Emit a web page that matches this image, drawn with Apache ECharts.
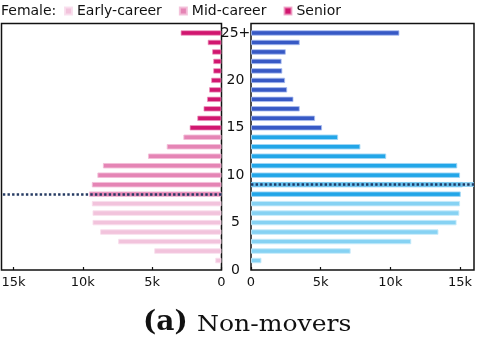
<!DOCTYPE html>
<html>
<head>
<meta charset="utf-8">
<script src="https://cdn.jsdelivr.net/npm/echarts@6/dist/echarts.min.js"></script>
<style>
  html, body { margin: 0; padding: 0; background: #fff; }
  #chart { width: 479px; height: 341px; }
</style>
</head>
<body>
<div id="chart"></div>
<script>
// Career age (years since first publication) shown on the shared vertical axis.
const yearLabels = ['0','1','2','3','4','5','6','7','8','9','10','11','12','13','14','15','16','17','18','19','20','21','22','23','24','25+'];
// Researcher counts per career age 1..25+ (age 0 has no bar).
const femaleCounts = [450, 4850, 7450, 8750, 9300, 9300, 9350, 9550, 9350, 8950, 8550, 5300, 3950, 2750, 2300, 1750, 1300, 1050, 900, 750, 600, 600, 680, 1000, 2950];
const maleCounts   = [750, 7150, 11500, 13450, 14750, 14950, 15000, 15050, 15200, 15000, 14800, 9700, 7850, 6250, 5100, 4600, 3500, 3050, 2600, 2450, 2250, 2200, 2500, 3500, 10650];
// Career stages by career age (inclusive ranges).
const stageNames = ['Early-career', 'Mid-career', 'Senior'];
const stageRanges = [[1, 7], [8, 14], [15, 25]];
// Career age marked by the dotted reference line in each panel.
const femaleMarkAge = '8';
const maleMarkAge = '9';

const femaleColors = ['#f2c3dc', '#e585b5', '#d1166f'];
const femaleEdges  = ['rgba(248,222,236,0.9)', 'rgba(243,190,216,0.9)', 'rgba(236,150,190,0.7)'];
const maleColors   = ['#86d2f3', '#22a6e8', '#3759c5'];
const maleEdges    = ['rgba(196,234,250,0.9)', 'rgba(160,214,245,0.9)', 'rgba(170,190,240,0.8)'];

// Category axis: ages 0..25+ plus an empty slot above the top bar.
const yCats = yearLabels.concat(['']);

function stageData(counts, s) {
  const [lo, hi] = stageRanges[s];
  return yCats.map((_, i) => (i >= lo && i <= hi) ? counts[i - 1] : '-');
}

const tickFmt = v => (v % 5000 === 0 ? (v === 0 ? '0' : (v / 1000) + 'k') : '');
const font = 'DejaVu Sans, Verdana, sans-serif';

const series = [];
stageNames.forEach((name, s) => {
  series.push({
    name: name,
    type: 'bar',
    xAxisIndex: 0, yAxisIndex: 0,
    stack: 'female',
    barWidth: 5.5,
    data: stageData(femaleCounts, s),
    itemStyle: { color: femaleColors[s], borderColor: femaleEdges[s], borderWidth: 1 },
    silent: true,
    markLine: s === 1 ? {
      silent: true, symbol: ['none', 'none'], label: { show: false },
      lineStyle: { color: '#263b63', width: 2.5, type: [2.4, 2.2] },
      data: [{ yAxis: femaleMarkAge }]
    } : undefined
  });
});
stageNames.forEach((name, s) => {
  series.push({
    name: 'Male ' + name,
    type: 'bar',
    xAxisIndex: 1, yAxisIndex: 1,
    stack: 'male',
    barWidth: 5.5,
    data: stageData(maleCounts, s),
    itemStyle: { color: maleColors[s], borderColor: maleEdges[s], borderWidth: 1 },
    silent: true,
    markLine: s === 1 ? {
      silent: true, symbol: ['none', 'none'], label: { show: false },
      data: [
        { yAxis: maleMarkAge, lineStyle: { color: 'rgba(120,200,240,0.8)', width: 5, type: 'solid' } },
        { yAxis: maleMarkAge, lineStyle: { color: '#1d3a66', width: 2.5, type: [2.4, 2.2] } }
      ]
    } : undefined
  });
});

const chart = echarts.init(document.getElementById('chart'), null, { renderer: 'canvas' });
chart.setOption({
  animation: false,
  backgroundColor: '#fff',
  legend: {
    data: stageNames,
    left: 64, top: 4, padding: 0,
    itemWidth: 7, itemHeight: 7, itemGap: 17,
    icon: 'rect',
    textStyle: { fontFamily: font, fontSize: 14, color: '#111' },
    selectedMode: false
  },
  grid: [
    { left: 1.5, right: 257.5, top: 23.5, bottom: 71, show: true, borderColor: '#111', borderWidth: 1.5, backgroundColor: 'transparent', outerBoundsMode: 'none', containLabel: false },
    { left: 251, right: 5, top: 23.5, bottom: 71, show: true, borderColor: '#111', borderWidth: 1.5, backgroundColor: 'transparent', outerBoundsMode: 'none', containLabel: false }
  ],
  xAxis: [
    {
      type: 'value', gridIndex: 0, inverse: true, min: 0, max: 15860, interval: 5000,
      axisLine: { show: false }, splitLine: { show: false },
      axisTick: { show: true, inside: true, length: 3, lineStyle: { color: '#111', width: 1.2 } },
      axisLabel: { formatter: tickFmt, fontFamily: font, fontSize: 13, color: '#111', margin: 6, showMaxLabel: false }
    },
    {
      type: 'value', gridIndex: 1, min: 0, max: 16000, interval: 5000,
      axisLine: { show: false }, splitLine: { show: false },
      axisTick: { show: true, inside: true, length: 3, lineStyle: { color: '#111', width: 1.2 } },
      axisLabel: { formatter: tickFmt, fontFamily: font, fontSize: 13, color: '#111', margin: 6, showMaxLabel: false }
    }
  ],
  yAxis: [
    {
      type: 'category', gridIndex: 0, data: yCats, boundaryGap: false, position: 'right',
      axisLine: { show: false }, axisTick: { show: false }, splitLine: { show: false },
      axisLabel: {
        interval: (i) => i % 5 === 0 && i <= 25,
        align: 'center', margin: 14,
        fontFamily: font, fontSize: 14, color: '#111'
      }
    },
    {
      type: 'category', gridIndex: 1, data: yCats, boundaryGap: false,
      axisLine: { show: false }, axisTick: { show: false }, splitLine: { show: false },
      axisLabel: { show: false }
    }
  ],
  graphic: [
    {
      type: 'text', left: 1, top: 4,
      style: { text: 'Female:', font: '14px ' + font, fill: '#111' }
    },
    {
      type: 'text', x: 143, y: 323,
      style: { text: '(a)', font: 'bold 28px "DejaVu Serif", serif', fill: '#111', verticalAlign: 'middle' }
    },
    {
      type: 'text', x: 197, y: 325, scaleX: 1.14,
      style: { text: 'Non-movers', font: '22px "DejaVu Serif", serif', fill: '#111', verticalAlign: 'middle' }
    }
  ],
  series: series
});
</script>
</body>
</html>
